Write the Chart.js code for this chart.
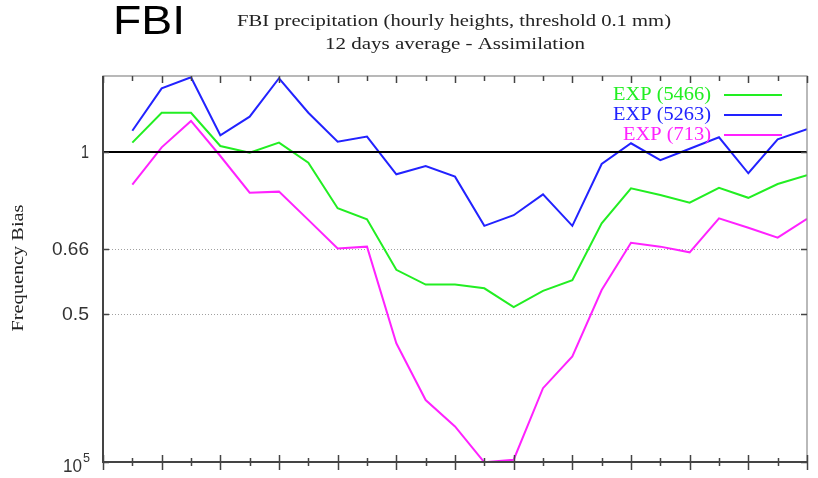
<!DOCTYPE html>
<html>
<head>
<meta charset="utf-8">
<script src="https://cdn.jsdelivr.net/npm/chart.js@4/dist/chart.umd.min.js"></script>
<style>
  html, body { margin: 0; padding: 0; background: #ffffff; }
  #wrap { width: 818px; height: 478px; position: relative; }
</style>
</head>
<body>
<div id="wrap"><canvas id="c" width="818" height="478"></canvas></div>
<script>
// ---- data ----
const steps = [1,2,3,4,5,6,7,8,9,10,11,12,13,14,15,16,17,18,19,20,21,22,23,24];
const exp5466 = [1.041,1.183,1.183,1.026,0.997,1.041,0.955,0.786,0.750,0.604,0.567,0.567,0.558,0.515,0.552,0.578,0.737,0.856,0.832,0.805,0.858,0.822,0.872,0.905];
const exp5263 = [1.095,1.313,1.377,1.074,1.163,1.371,1.183,1.045,1.068,0.909,0.942,0.900,0.729,0.763,0.834,0.729,0.950,1.038,0.966,1.014,1.065,0.913,1.056,1.102];
const exp713  = [0.870,1.020,1.142,0.983,0.840,0.844,0.748,0.662,0.667,0.441,0.346,0.309,0.265,0.268,0.364,0.417,0.554,0.678,0.667,0.651,0.753,0.723,0.693,0.751];
const seriesNames = ['EXP (5466)', 'EXP (5263)', 'EXP (713)'];
const seriesColors = ['#22ee22', '#2222ff', '#ff22ff'];
const yTickValues = [0.2654, 0.5, 0.66, 1];
const yTickLabels = ['10', '0.5', '0.66', '1'];
const yMin = 0.2654, yMax = 1.3843;
const xMin = 0, xMax = 24;
const refValue = 1;

const pts = arr => arr.map((v, i) => ({ x: steps[i], y: v }));

const decor = {
  id: 'decor',
  beforeDatasetsDraw(chart) {
    const { ctx, chartArea: a, scales: { y } } = chart;
    ctx.save();
    ctx.strokeStyle = '#a0a0a0';
    ctx.lineWidth = 1;
    ctx.setLineDash([1, 2]);
    [0.5, 0.66, 1].forEach(v => {
      const py = Math.round(y.getPixelForValue(v)) + 0.5;
      ctx.beginPath(); ctx.moveTo(a.left, py); ctx.lineTo(a.right, py); ctx.stroke();
    });
    ctx.restore();
  },
  afterDraw(chart) {
    const { ctx, chartArea: a, scales: { x, y } } = chart;
    ctx.save();
    // stretched text helper
    const fit = (text, px, py, w, font, color, align, rot) => {
      ctx.save();
      ctx.font = font; ctx.fillStyle = color;
      ctx.textAlign = align; ctx.textBaseline = 'middle';
      const m = ctx.measureText(text).width;
      ctx.translate(px, py);
      if (rot) ctx.rotate(rot);
      ctx.scale(w / m, 1);
      ctx.fillText(text, 0, 0);
      ctx.restore();
    };
    // frame
    ctx.strokeStyle = '#8a8a8a'; ctx.lineWidth = 1.2;
    ctx.strokeRect(a.left, a.top, a.right - a.left, a.bottom - a.top);
    ctx.strokeStyle = '#444'; ctx.lineWidth = 2;
    ctx.beginPath(); ctx.moveTo(a.left, a.top); ctx.lineTo(a.left, a.bottom); ctx.lineTo(a.right, a.bottom); ctx.stroke();
    // x ticks
    ctx.strokeStyle = '#444'; ctx.lineWidth = 1.5;
    for (let k = xMin; k <= xMax; k++) {
      const px = Math.round(x.getPixelForValue(k)) + 0.5;
      const major = k % 2 === 0;
      ctx.beginPath();
      ctx.moveTo(px, a.bottom - (major ? 7 : 4)); ctx.lineTo(px, a.bottom + (major ? 8 : 4));
      ctx.moveTo(px, a.top); ctx.lineTo(px, a.top + (major ? 7 : 5));
      ctx.stroke();
    }
    // y ticks + labels
    const labelWidths = [19, 27, 37, 8];
    yTickValues.forEach((v, i) => {
      const py = Math.round(y.getPixelForValue(v)) + 0.5;
      ctx.strokeStyle = '#444'; ctx.lineWidth = 1.5;
      ctx.beginPath();
      ctx.moveTo(a.left, py); ctx.lineTo(a.left + 6, py);
      ctx.moveTo(a.right, py); ctx.lineTo(a.right - 6, py);
      ctx.stroke();
      if (i === 0) {
        fit('5', 90, py - 4, 7, '12px "Liberation Sans", Arial, sans-serif', '#333', 'right');
        fit(yTickLabels[i], 82, py + 4, labelWidths[i], '19px "Liberation Sans", Arial, sans-serif', '#333', 'right');
      } else {
        fit(yTickLabels[i], 89, py, labelWidths[i], '19px "Liberation Sans", Arial, sans-serif', '#333', 'right');
      }
    });
    // titles
    fit('FBI', 113, 23, 72, '40px "Liberation Sans", Arial, sans-serif', '#000', 'left');
    fit('FBI precipitation (hourly heights, threshold 0.1 mm)', 454, 22, 434, '16px "Liberation Serif", serif', '#222', 'center');
    fit('12 days average - Assimilation', 455, 45, 260, '16px "Liberation Serif", serif', '#222', 'center');
    fit('Frequency Bias', 19, 268, 127, '16px "Liberation Serif", serif', '#222', 'center', -Math.PI / 2);
    // legend
    const rows = [95, 115, 135];
    seriesNames.forEach((n, i) => {
      fit(n, 711, rows[i], i === 2 ? 88 : 98, '19px "Liberation Serif", serif', seriesColors[i], 'right');
      ctx.strokeStyle = seriesColors[i]; ctx.lineWidth = 2;
      ctx.beginPath(); ctx.moveTo(724, rows[i]); ctx.lineTo(782, rows[i]); ctx.stroke();
    });
    ctx.restore();
  }
};

const lineDs = (label, data, color) => ({
  label, data: pts(data), borderColor: color, backgroundColor: color,
  borderWidth: 2, pointRadius: 0, tension: 0, fill: false
});

new Chart(document.getElementById('c'), {
  type: 'line',
  data: {
    datasets: [
      { label: 'ref', data: [{ x: xMin, y: refValue }, { x: xMax, y: refValue }], borderColor: '#000', borderWidth: 2, pointRadius: 0 },
      lineDs(seriesNames[0], exp5466, seriesColors[0]),
      lineDs(seriesNames[1], exp5263, seriesColors[1]),
      lineDs(seriesNames[2], exp713, seriesColors[2])
    ]
  },
  options: {
    responsive: false,
    animation: false,
    devicePixelRatio: 1,
    layout: { padding: { left: 103, right: 11, top: 76, bottom: 16 } },
    plugins: { legend: { display: false }, title: { display: false }, tooltip: { enabled: false } },
    scales: {
      x: { type: 'linear', min: xMin, max: xMax, display: false },
      y: { type: 'logarithmic', min: yMin, max: yMax, display: false }
    }
  },
  plugins: [decor]
});
</script>
</body>
</html>
